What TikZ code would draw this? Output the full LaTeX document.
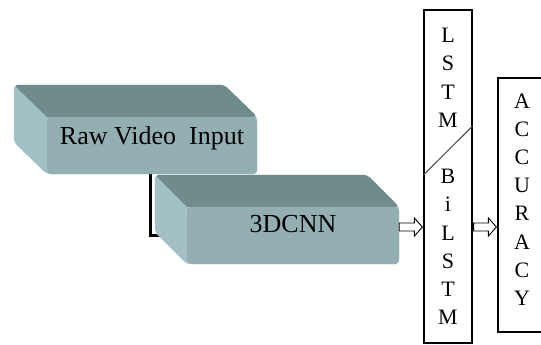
\documentclass[tikz,border=0pt]{standalone}
\usepackage{fontspec}
\setmainfont{Liberation Serif}
\usetikzlibrary{backgrounds}
\definecolor{topc}{HTML}{6F8B8C}
\definecolor{frontc}{HTML}{93AFB2}
\definecolor{sidec}{HTML}{A3C1C5}
\definecolor{diagc}{HTML}{444444}
\begin{document}
\begin{tikzpicture}[x=1pt,y=-1pt,
  face/.style={fill=frontc, rounded corners=4pt, inner sep=0pt, minimum height=57pt},
  silh/.style={fill=sidec, rounded corners=4pt},
  topface/.style={fill=topc, rounded corners=4pt},
  lbl/.style={font=\fontsize{26}{30}\selectfont, anchor=base, inner sep=0pt},
  col/.style={draw, line width=1.2pt, minimum width=48pt, inner sep=0pt},
  coltext/.style={align=center, inner sep=0pt, font=\fontsize{22}{28.2}\selectfont},
  conn/.style={line width=3pt, line join=miter},
  harrow/.style={draw, fill=white, line width=0.9pt, line join=miter},
  diag/.style={draw=diagc, line width=1pt}
]
\useasboundingbox (0,0) rectangle (541,345);

% front faces
\node[face, minimum width=210pt] (raw) at (152,145.5) {};
\node[face, minimum width=212pt] (cnn) at (293,235.5) {};
\node[lbl] (rawlbl) at ([yshift=1.5pt]raw.center) {Raw Video\ \ Input};
\node[lbl] (cnnlbl) at ([yshift=3.5pt]cnn.center) {3DCNN};

\begin{scope}[on background layer]
  % box 1 side and top
  \fill[silh] ([shift={(-33,-32)}]raw.north west) -- ([shift={(-33,-32)}]raw.north east)
     -- (raw.north east) -- (raw.south east) -- (raw.south west)
     -- ([shift={(-33,-32)}]raw.south west) -- cycle;
  \fill[topface] (raw.north west) -- ([shift={(-33,-32)}]raw.north west)
     -- ([shift={(-33,-32)}]raw.north east) -- (raw.north east) -- (raw.north west);
  % connector
  \draw[conn] ([xshift=-2pt]raw.south) |- ([xshift=-25pt]cnn.west);
  % box 2 side and top
  \fill[silh] ([shift={(-32,-32)}]cnn.north west) -- ([shift={(-32,-32)}]cnn.north east)
     -- (cnn.north east) -- (cnn.south east) -- (cnn.south west)
     -- ([shift={(-32,-32)}]cnn.south west) -- cycle;
  \fill[topface] (cnn.north west) -- ([shift={(-32,-32)}]cnn.north west)
     -- ([shift={(-32,-32)}]cnn.north east) -- (cnn.north east) -- (cnn.north west);
\end{scope}

% LSTM / BiLSTM column
\node[col, minimum height=333pt, coltext] (lstm) at (448,176.5)
  {L\\S\\T\\M\\[28.2pt]B\\i\\L\\S\\T\\M};
\draw[diag] ([yshift=1.5pt]lstm.west) -- ([yshift=50.5pt]lstm.east);

% ACCURACY column
\node[col, minimum height=254pt] (acc) at (522,205) {};
\node[coltext] (acctext) at ([yshift=5.5pt]acc.center) {A\\C\\C\\U\\R\\A\\C\\Y};

% hollow arrows
\coordinate (a1s) at ([yshift=8.5pt]cnn.east);
\path (lstm.west |- a1s) ++(-1,0) coordinate (a1e);
\draw[harrow] ([yshift=4pt]a1s) -- ([shift={(-8pt,4pt)}]a1e) -- ([shift={(-8pt,9pt)}]a1e)
  -- (a1e) -- ([shift={(-8pt,-9pt)}]a1e) -- ([shift={(-8pt,-4pt)}]a1e)
  -- ([yshift=-4pt]a1s) -- cycle;
\path (lstm.east |- a1s) ++(1,0) coordinate (a2s);
\path (acc.west |- a1s) ++(-1,0) coordinate (a2e);
\draw[harrow] ([yshift=4pt]a2s) -- ([shift={(-8pt,4pt)}]a2e) -- ([shift={(-8pt,9pt)}]a2e)
  -- (a2e) -- ([shift={(-8pt,-9pt)}]a2e) -- ([shift={(-8pt,-4pt)}]a2e)
  -- ([yshift=-4pt]a2s) -- cycle;
\end{tikzpicture}
\end{document}
